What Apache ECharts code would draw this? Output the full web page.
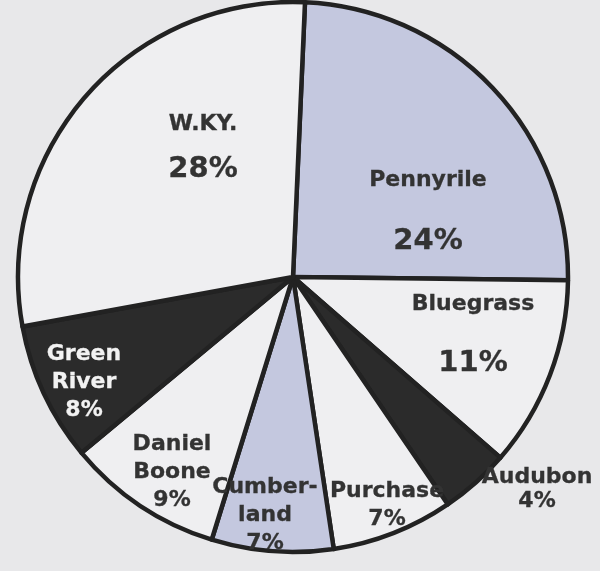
<!DOCTYPE html>
<html>
<head>
<meta charset="utf-8">
<script src="https://cdn.jsdelivr.net/npm/echarts@6/dist/echarts.min.js"></script>
<style>
  html, body { margin: 0; padding: 0; background: #e8e8ea; }
  #chart { width: 600px; height: 571px; }
</style>
</head>
<body>
<div id="chart"></div>
<script>
// regions, clockwise from the top
const regions = ['Pennyrile', 'Bluegrass', 'Audubon', 'Purchase', 'Cumberland', 'Daniel Boone', 'Green River', 'W.KY.'];
const shares = [24, 11, 4, 7, 7, 9, 8, 28];
const labelNames = ['Pennyrile', 'Bluegrass', 'Audubon', 'Purchase', 'Cumber-\nland', 'Daniel\nBoone', 'Green\nRiver', 'W.KY.'];

const WHITE = '#efeff1';
const BLUE = '#c4c8df';
const BLACK = '#2b2b2b';
const fills = [BLUE, WHITE, BLACK, WHITE, BLUE, WHITE, BLACK, WHITE];

// where each label sits (centre of the text block)
const labelPos = [
    [428, 212], [473, 335], [537, 489], [387, 505],
    [265, 515], [172, 472], [84, 382], [203, 148]
];
// big slices get a larger percentage with a gap above it
const pctGap = [30, 28, 0, 0, 0, 0, 0, 14];

const chart = echarts.init(document.getElementById('chart'));

const data = regions.map((name, i) => {
    const col = i === 6 ? '#f2f2f2' : '#333';
    const big = pctGap[i] > 0;
    return {
        name: name,
        value: shares[i],
        itemStyle: { color: fills[i] },
        label: {
            color: col,
            textBorderColor: col,
            textBorderWidth: 0.3,
            lineHeight: i === 2 ? 24 : 28,
            formatter: big
                ? labelNames[i] + '\n{gap|}\n{big|' + shares[i] + '%}'
                : labelNames[i] + '\n' + shares[i] + '%',
            rich: big ? {
                gap: { fontSize: 10, lineHeight: pctGap[i] },
                big: { fontSize: 29, lineHeight: 34, fontFamily: 'DejaVu Sans', fontWeight: 'bold',
                       color: col, textBorderColor: col, textBorderWidth: 0.3 }
            } : {}
        }
    };
});

chart.setOption({
    backgroundColor: '#e8e8ea',
    animation: false,
    series: [{
        type: 'pie',
        center: [293, 277],
        radius: [0, 275],
        startAngle: 87.5,
        clockwise: true,
        avoidLabelOverlap: false,
        itemStyle: {
            borderColor: '#222',
            borderWidth: 4.5
        },
        label: {
            show: true,
            position: 'inside',
            fontFamily: 'DejaVu Sans',
            fontWeight: 'bold',
            fontSize: 22,
            align: 'center'
        },
        labelLine: { show: false },
        emphasis: { disabled: true },
        labelLayout: function (params) {
            const p = labelPos[params.dataIndex];
            return { x: p[0], y: p[1], align: 'center', verticalAlign: 'middle' };
        },
        data: data
    }]
});
</script>
</body>
</html>
